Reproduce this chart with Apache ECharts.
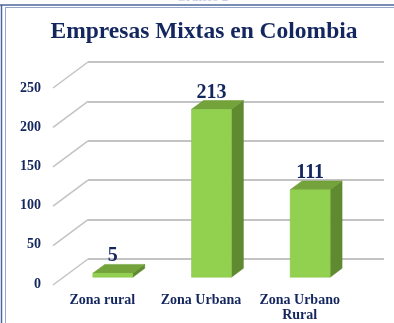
<!DOCTYPE html>
<html>
<head>
<meta charset="utf-8">
<script src="https://cdn.jsdelivr.net/npm/echarts@6/dist/echarts.min.js"></script>
<style>
  html, body { margin: 0; padding: 0; background: #ffffff; }
  #chart { width: 394px; height: 323px; }
</style>
</head>
<body>
<div id="chart"></div>
<script>
// Chart data
const categories = ['Zona rural', 'Zona Urbana', 'Zona Urbano\nRural'];
const empresas = [5, 213, 111];
const yTicks = [0, 50, 100, 150, 200, 250];

// Pseudo-3D floor: vector from the back wall to the front edge of the floor
const FLOOR_DX = -35, FLOOR_DY = 26;
// Bars sit between these fractions of the floor depth
const BAR_FRONT = 0.7, BAR_BACK = 0.36;
const BAR_W = 40;

const NAVY = '#14265e';
const FONT = '"Liberation Serif", "Times New Roman", serif';

const chart = echarts.init(document.getElementById('chart'), null, { renderer: 'canvas' });

const option = {
  backgroundColor: '#ffffff',
  animation: false,
  title: {
    text: 'Empresas Mixtas en Colombia',
    left: 204,
    top: 20,
    textAlign: 'center',
    padding: 0,
    textStyle: { fontFamily: FONT, fontWeight: 'bold', fontSize: 23.5, color: NAVY }
  },
  graphic: [
    // caption above the frame
    { type: 'text', left: 176, top: -9, style: { text: 'Gráfico 2', font: 'bold 13px ' + FONT, fill: '#c3cde3' } },
    // double frame lines
    { type: 'line', shape: { x1: 0, y1: 5, x2: 394, y2: 5 }, style: { stroke: '#4d679c', lineWidth: 1.5 } },
    { type: 'line', shape: { x1: 5, y1: 7.5, x2: 394, y2: 7.5 }, style: { stroke: '#93a5c9', lineWidth: 1 } },
    { type: 'line', shape: { x1: 1.5, y1: 5, x2: 1.5, y2: 323 }, style: { stroke: '#4d679c', lineWidth: 1.5 } },
    { type: 'line', shape: { x1: 5.5, y1: 7.5, x2: 5.5, y2: 323 }, style: { stroke: '#93a5c9', lineWidth: 1 } }
  ],
  grid: [
    // back wall
    { left: 88, right: 10, top: 62, bottom: 64 },
    // front edge of the floor (axis labels)
    { left: 53, right: 45, top: 88, bottom: 38 }
  ],
  xAxis: [
    { type: 'category', gridIndex: 0, data: categories, show: false },
    {
      type: 'category', gridIndex: 1, data: categories,
      axisLine: { show: false }, axisTick: { show: false },
      axisLabel: {
        margin: 9, interval: 0, color: NAVY, fontFamily: FONT,
        fontWeight: 'bold', fontSize: 14, lineHeight: 15
      }
    }
  ],
  yAxis: [
    {
      type: 'value', gridIndex: 0, min: 0, max: 250, interval: 50,
      axisLine: { show: false }, axisTick: { show: false }, axisLabel: { show: false },
      splitLine: { show: true, lineStyle: { color: '#c3c3c3', width: 2 } }
    },
    {
      type: 'value', gridIndex: 1, min: 0, max: 250, interval: 50,
      axisLine: { show: false }, axisTick: { show: false }, splitLine: { show: false },
      axisLabel: { margin: 12, color: NAVY, fontFamily: FONT, fontWeight: 'bold', fontSize: 14 }
    }
  ],
  series: [
    {
      // side wall: diagonal lines from the back wall grid to the front edge
      type: 'custom',
      xAxisIndex: 0, yAxisIndex: 0,
      data: yTicks.map(v => [0, v]),
      silent: true,
      renderItem: function (params, api) {
        const x0 = params.coordSys.x;
        const y0 = api.coord([0, api.value(1)])[1];
        return {
          type: 'line',
          shape: { x1: x0, y1: y0, x2: x0 + FLOOR_DX, y2: y0 + FLOOR_DY },
          style: { stroke: '#c3c3c3', lineWidth: 1.5 }
        };
      }
    },
    {
      // 3D bars with value labels
      type: 'custom',
      xAxisIndex: 0, yAxisIndex: 0,
      data: empresas.map((v, i) => [i, v]),
      renderItem: function (params, api) {
        const idx = api.value(0);
        const val = api.value(1);
        const top = api.coord([idx, val]);
        const base = api.coord([idx, 0]);
        const cx = top[0] + FLOOR_DX * BAR_FRONT;
        const T = top[1] + FLOOR_DY * BAR_FRONT;
        const B = base[1] + FLOOR_DY * BAR_FRONT;
        const dx = FLOOR_DX * (BAR_BACK - BAR_FRONT);
        const dy = FLOOR_DY * (BAR_BACK - BAR_FRONT);
        const L = cx - BAR_W / 2, R = cx + BAR_W / 2;
        return {
          type: 'group',
          children: [
            {
              type: 'polygon',
              shape: { points: [[R, T], [R + dx, T + dy], [R + dx, B + dy], [R, B]] },
              style: { fill: '#5f8a2f', stroke: '#58822a', lineWidth: 0.5 }
            },
            {
              type: 'polygon',
              shape: { points: [[L, T], [R, T], [R + dx, T + dy], [L + dx, T + dy]] },
              style: { fill: '#73a33a', stroke: '#6a9a34', lineWidth: 0.5 }
            },
            {
              type: 'rect',
              shape: { x: L, y: T, width: BAR_W, height: B - T },
              style: { fill: '#92d050', stroke: '#86c246', lineWidth: 0.5 }
            },
            {
              type: 'text',
              x: cx, y: T - 17,
              style: {
                text: String(val), align: 'center', verticalAlign: 'middle',
                font: 'bold 20px ' + FONT, fill: NAVY
              }
            }
          ]
        };
      }
    }
  ]
};

chart.setOption(option);
</script>
</body>
</html>
